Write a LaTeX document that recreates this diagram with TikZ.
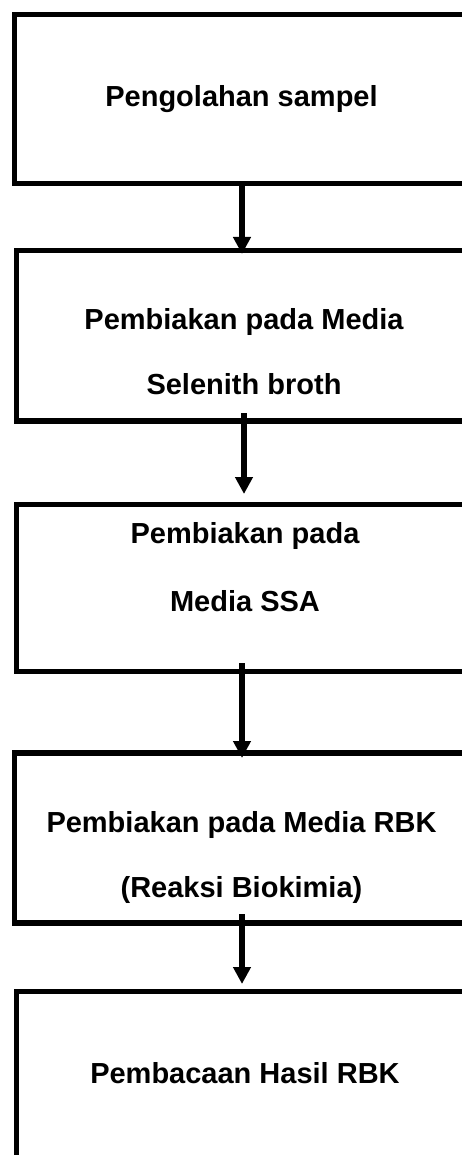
\documentclass[tikz,border=0pt]{standalone}
\usepackage{fontspec}
\setmainfont{Liberation Sans}
\usetikzlibrary{arrows.meta}
\begin{document}
\begin{tikzpicture}[x=1pt,y=-1pt,
  boxline/.style={line width=5.5pt},
  lbl/.style={font=\bfseries\fontsize{29}{29}\selectfont, anchor=base, inner sep=0pt},
  flow/.style={line width=5.5pt,-{Triangle[length=17pt,width=17pt]}}]
\useasboundingbox (0,0) rectangle (462,1155);
\clip (0,0) rectangle (462,1155);
\fill[white] (0,0) rectangle (462,1155);
% boxes (open on the right, cut by the page edge)
\draw[boxline] (480,14.5) -| (14.5,183.5) -- (480,183.5);
\draw[boxline] (480,250.5) -| (16.5,421) -- (480,421);
\draw[boxline] (480,504.5) -| (16.5,671.5) -- (480,671.5);
\draw[boxline] (480,753) -| (14.5,923) -- (480,923);
\draw[boxline] (480,991.5) -| (16.5,1180);
% texts
\node[lbl] (t1) at (241.5,107) {Pengolahan sampel};
\node[lbl] (t2a) at (244,329) {Pembiakan pada Media};
\node[lbl] (t2b) at (244,394) {Selenith broth};
\node[lbl] (t3a) at (245,543) {Pembiakan pada};
\node[lbl] (t3b) at (245,611) {Media SSA};
\node[lbl] (t4a) at (241.5,832) {Pembiakan pada Media RBK};
\node[lbl] (t4b) at (241.5,897) {(Reaksi Biokimia)};
\node[lbl] (t5) at (245,1083) {Pembacaan Hasil RBK};
% arrows
\coordinate (a1s) at (242,186);
\coordinate (a1e) at (242,254);
\coordinate (a2s) at (244,413);
\coordinate (a2e) at (244,494);
\coordinate (a3s) at (242,663);
\coordinate (a3e) at (242,758);
\coordinate (a4s) at (242,914);
\coordinate (a4e) at (242,984);
\draw[flow] (a1s) -- (a1e);
\draw[flow] (a2s) -- (a2e);
\draw[flow] (a3s) -- (a3e);
\draw[flow] (a4s) -- (a4e);
\end{tikzpicture}
\end{document}
